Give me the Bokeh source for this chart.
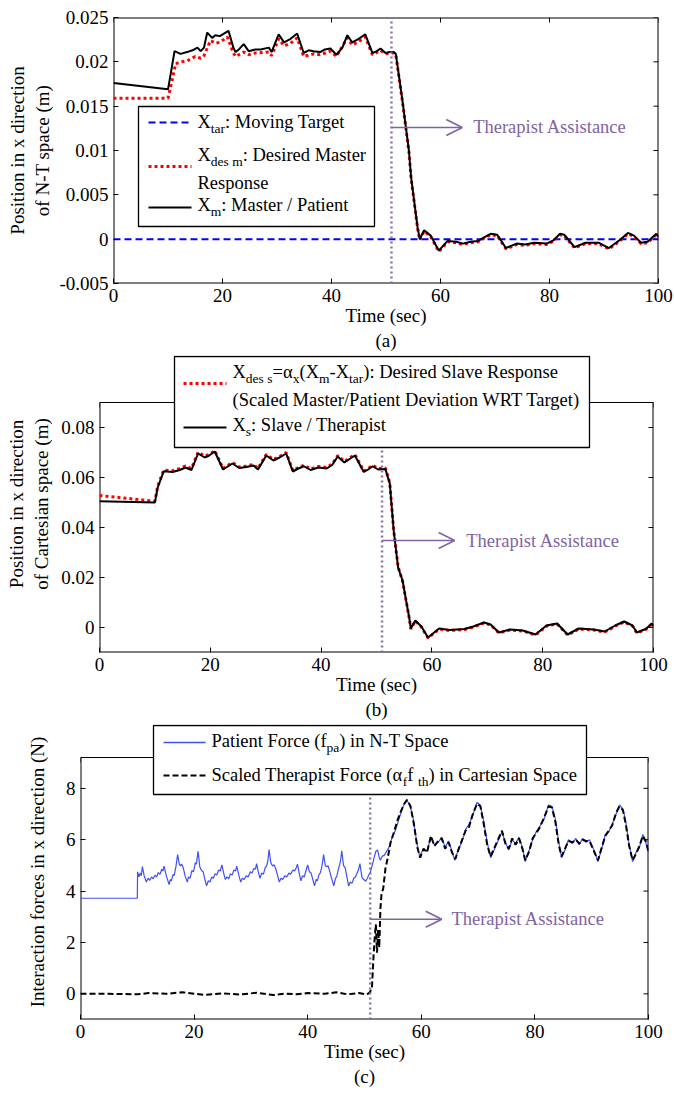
from bokeh.plotting import figure
from bokeh.layouts import column
from bokeh.models import (Range1d, FixedTicker, Label, Arrow, OpenHead, BoxAnnotation)
from bokeh.embed import file_html
from bokeh.resources import INLINE

FONT = "Liberation Serif"
PURPLE = "#8064A2"

# ---------------- data ----------------
T_ASSIST = 51.0

X_TICKS = [0, 20, 40, 60, 80, 100]
X_TICK_LABELS = ["0", "20", "40", "60", "80", "100"]

# (a) N-T space positions
A_YTICKS = [-0.005, 0, 0.005, 0.01, 0.015, 0.02, 0.025]
A_YTICK_LABELS = ["-0.005", "0", "0.005", "0.01", "0.015", "0.02", "0.025"]
t_tar = [0, 100]
x_tar = [0.0, 0.0]
t_m = [0, 10, 10.6, 11.2, 12.3, 13.5, 14.5, 15.4, 16.0, 16.6, 17.2, 18.1, 18.7, 19.5,
       21.1, 22.0, 22.4, 23.0, 23.9, 24.8, 26.0, 27.0, 28.5, 29.0, 30.3, 31.3, 32.5,
       33.7, 34.9, 35.8, 36.7, 37.9, 38.8, 39.8, 40.9, 42.0, 42.9, 43.8, 45.0, 46.2,
       47.5, 48.3, 49.0, 49.9, 50.7, 51.4, 51.8, 53.0, 54.2, 54.6, 55.8, 56.2, 57.0,
       58.2, 59.7, 61.3, 62.9, 64.1, 65.5, 66.9, 68.0, 69.2, 70.4, 72.0, 74.0, 75.5,
       77.2, 79.5, 80.8, 81.9, 82.7, 84.6, 86.6, 89.0, 90.9, 92.9, 94.4, 95.5, 96.8,
       98.0, 99.6, 100]
x_m = [0.0176, 0.0169, 0.0190, 0.0212, 0.0209, 0.0211, 0.0213, 0.0216, 0.0212, 0.0216,
       0.0233, 0.0227, 0.0230, 0.0229, 0.0235, 0.0216, 0.0211, 0.0214, 0.0220, 0.0212,
       0.0214, 0.0214, 0.0216, 0.0211, 0.0231, 0.0222, 0.0226, 0.0232, 0.0210, 0.0213,
       0.0212, 0.0211, 0.0214, 0.0215, 0.0208, 0.0216, 0.0230, 0.0222, 0.0226, 0.0231,
       0.0210, 0.0212, 0.0215, 0.0210, 0.0211, 0.0211, 0.0209, 0.0157, 0.0100, 0.0070,
       0.0013, 0.0000, 0.0010, 0.0004, -0.0013, -0.0002, -0.0003, -0.0005, -0.0003,
       -0.0002, 0.0002, 0.0006, 0.0005, -0.0010, -0.0005, -0.0006, -0.0004, -0.0005,
       -0.0001, 0.0006, 0.0005, -0.0009, -0.0004, -0.0004, -0.0010, -0.0001, 0.0007,
       0.0004, -0.0004, -0.0003, 0.0006, 0.0003]
t_des_m = [0, 10, 10.6, 11.4, 12.5, 13.5, 15.0, 16.0, 16.6, 17.8, 18.7, 19.5, 20.9,
           22.0, 22.4, 23.9, 24.8, 26.0, 28.5, 29.0, 30.3, 31.3, 32.5, 33.7, 34.9, 36.7,
           37.9, 39.8, 40.9, 42.9, 43.8, 45.0, 46.2, 47.5, 49.0, 49.9, 50.7, 51.4, 51.8,
           53.0, 54.2, 54.6, 55.8, 56.2, 57.0, 58.2, 59.7, 61.3, 62.9, 64.1, 65.5, 66.9,
           68.0, 69.2, 70.4, 72.0, 74.0, 75.5, 77.2, 79.5, 80.8, 81.9, 82.7, 84.6, 86.6,
           89.0, 90.9, 92.9, 94.4, 95.5, 96.8, 98.0, 99.6, 100]
x_des_m = [0.0159, 0.0159, 0.0175, 0.0198, 0.0200, 0.0201, 0.0206, 0.0204, 0.0207,
           0.0224, 0.0221, 0.0222, 0.0228, 0.0210, 0.0206, 0.0211, 0.0208, 0.0210,
           0.0211, 0.0207, 0.0226, 0.0218, 0.0221, 0.0227, 0.0206, 0.0209, 0.0208,
           0.0212, 0.0206, 0.0227, 0.0219, 0.0223, 0.0228, 0.0208, 0.0213, 0.0209,
           0.0210, 0.0210, 0.0208, 0.0156, 0.0099, 0.0069, 0.0012, -0.0001, 0.0009,
           0.0003, -0.0014, -0.0003, -0.0004, -0.0006, -0.0004, -0.0003, 0.0001, 0.0005,
           0.0004, -0.0011, -0.0006, -0.0007, -0.0005, -0.0006, -0.0002, 0.0005, 0.0004,
           -0.0010, -0.0005, -0.0005, -0.0011, -0.0002, 0.0006, 0.0003, -0.0005,
           -0.0004, 0.0005, 0.0002]

# (b) Cartesian space positions
B_YTICKS = [0, 0.02, 0.04, 0.06, 0.08]
B_YTICK_LABELS = ["0", "0.02", "0.04", "0.06", "0.08"]
t_s = [0, 10, 10.5, 11.6, 13.2, 14.5, 15.5, 16.6, 17.8, 19.0, 19.8, 20.8, 22.3, 23.0,
       24.0, 25.2, 26.5, 27.8, 28.6, 30.1, 31.4, 32.5, 33.7, 34.9, 35.8, 36.9, 38.1,
       39.5, 41.0, 42.0, 43.0, 44.2, 45.0, 46.1, 47.7, 48.5, 49.3, 50.3, 51.6, 52.4,
       53.1, 53.9, 54.7, 55.9, 56.2, 57.0, 58.1, 59.3, 61.3, 63.2, 65.9, 67.5, 69.4,
       70.6, 72.1, 74.1, 76.4, 78.7, 80.7, 82.6, 84.5, 86.5, 89.2, 91.2, 93.1, 94.7,
       96.2, 97.0, 98.6, 99.7, 100]
x_s = [0.0505, 0.0500, 0.0560, 0.0625, 0.0622, 0.0630, 0.0640, 0.0630, 0.0696, 0.0680,
       0.0688, 0.0704, 0.0632, 0.0642, 0.0656, 0.0638, 0.0642, 0.0648, 0.0632, 0.0688,
       0.0668, 0.0680, 0.0696, 0.0624, 0.0635, 0.0645, 0.0630, 0.0640, 0.0636, 0.0650,
       0.0684, 0.0660, 0.0672, 0.0688, 0.0622, 0.0632, 0.0645, 0.0632, 0.0634, 0.0576,
       0.0388, 0.0240, 0.0188, 0.0040, -0.0004, 0.0028, 0.0004, -0.0040, -0.0004,
       -0.0010, -0.0006, 0.0004, 0.0020, 0.0012, -0.0020, -0.0008, -0.0012, -0.0028,
       0.0008, 0.0016, -0.0028, -0.0004, -0.0008, -0.0016, 0.0008, 0.0024, 0.0008,
       -0.0020, -0.0006, 0.0016, 0.0005]
x_des_s = [0.0528, 0.0505, 0.0565, 0.0630, 0.0627, 0.0636, 0.0646, 0.0636, 0.0702,
           0.0686, 0.0692, 0.0708, 0.0636, 0.0646, 0.0660, 0.0642, 0.0646, 0.0652,
           0.0636, 0.0692, 0.0672, 0.0684, 0.0700, 0.0628, 0.0639, 0.0649, 0.0634,
           0.0644, 0.0640, 0.0654, 0.0688, 0.0664, 0.0676, 0.0692, 0.0626, 0.0636,
           0.0649, 0.0636, 0.0638, 0.0578, 0.0390, 0.0242, 0.0186, 0.0038, -0.0006,
           0.0026, 0.0002, -0.0042, -0.0006, -0.0012, -0.0008, 0.0002, 0.0018, 0.0010,
           -0.0022, -0.0010, -0.0014, -0.0030, 0.0006, 0.0014, -0.0030, -0.0006,
           -0.0010, -0.0018, 0.0006, 0.0022, 0.0006, -0.0022, -0.0008, 0.0014, 0.0003]

# (c) interaction forces
C_YTICKS = [0, 2, 4, 6, 8]
C_YTICK_LABELS = ["0", "2", "4", "6", "8"]
t_pa = [0, 10.0, 10.05, 10.3, 10.5, 10.7, 10.9, 11.2, 11.6, 11.9, 12.2, 12.5, 12.8, 13.1,
        13.4, 13.7, 14.0, 14.3, 14.5, 14.7, 15.1, 15.6, 15.8, 16.0, 16.3, 16.5, 16.8,
        17.1, 17.4, 17.6, 17.8, 18.1, 18.4, 18.8, 19.0, 19.3, 19.6, 19.9, 20.2, 20.4,
        20.7, 21.0, 21.3, 21.6, 21.9, 22.2, 22.5, 22.8, 23.1, 23.4, 23.7, 24.0, 24.3,
        24.6, 24.9, 25.2, 25.5, 25.8, 26.1, 26.4, 26.7, 27.0, 27.3, 27.5, 27.9, 28.2,
        28.5, 28.8, 29.2, 29.5, 29.9, 30.2, 30.5, 30.8, 31.0, 31.3, 31.6, 31.9, 32.2,
        32.5, 32.8, 33.0, 33.2, 33.5, 33.8, 34.1, 34.4, 34.7, 35.0, 35.3, 35.6, 36.0,
        36.3, 36.7, 37.0, 37.4, 37.7, 38.0, 38.2, 38.5, 38.8, 39.1, 39.4, 39.7, 40.0,
        40.3, 40.6, 40.9, 41.2, 41.5, 41.7, 42.0, 42.2, 42.5, 42.8, 43.1, 43.3, 43.6,
        43.9, 44.2, 44.6, 44.9, 45.1, 45.4, 45.6, 45.8, 46.0, 46.3, 46.6, 46.9, 47.2,
        47.5, 47.8, 48.1, 48.4, 48.7, 48.9, 49.2, 49.4, 49.6, 49.9, 50.2, 50.5, 50.8,
        51.0, 51.3, 51.7, 52.0, 52.3, 52.6, 52.8, 53.1, 53.5, 54.3, 54.8, 55.5, 56.2,
        56.8, 57.4, 58.0, 58.6, 59.2, 59.7, 60.3, 61.0, 61.7, 62.3, 63.0, 63.6, 64.2,
        64.8, 65.4, 65.9, 66.5, 67.2, 67.8, 68.4, 69.0, 69.8, 70.4, 71.0, 71.6, 72.2,
        72.8, 73.4, 74.2, 74.8, 75.4, 76.0, 76.6, 77.2, 77.8, 78.3, 79.0, 79.6, 80.2,
        80.8, 81.6, 82.4, 83.0, 83.6, 84.2, 84.7, 85.3, 85.9, 86.6, 87.2, 87.8, 88.4,
        89.0, 89.6, 90.4, 91.1, 91.7, 92.4, 93.0, 93.6, 94.3, 94.9, 95.5, 96.0, 96.6,
        97.2, 97.8, 98.4, 99.0, 99.5, 100.0]
f_pa = [3.72, 3.72, 4.75, 4.55, 4.7, 4.6, 4.95, 4.6, 4.35, 4.5, 4.42, 4.55, 4.48, 4.62,
        4.55, 4.72, 4.65, 4.85, 4.78, 4.97, 4.6, 4.25, 4.45, 4.4, 4.65, 4.6, 4.95, 5.42,
        5.05, 4.98, 5.05, 4.9, 4.6, 4.35, 4.55, 4.5, 4.8, 4.75, 5.1, 5.05, 5.55, 4.95,
        4.8, 4.75, 4.45, 4.2, 4.4, 4.35, 4.55, 4.5, 4.68, 4.62, 4.82, 4.78, 5.02, 4.7,
        4.45, 4.55, 4.48, 4.68, 4.62, 4.82, 4.78, 4.97, 4.6, 4.35, 4.5, 4.45, 4.6, 4.55,
        4.75, 4.7, 4.88, 4.85, 5.07, 4.75, 4.5, 4.7, 4.65, 4.9, 5.0, 5.2, 5.62, 5.1, 4.98,
        5.02, 4.85, 4.6, 4.35, 4.5, 4.45, 4.6, 4.55, 4.7, 4.66, 4.82, 4.78, 4.92, 5.05,
        4.7, 4.4, 4.6, 4.55, 4.8, 5.02, 4.75, 4.7, 4.45, 4.2, 4.45, 4.4, 4.65, 4.7, 4.95,
        5.42, 5.0, 4.95, 4.98, 4.75, 4.5, 4.2, 4.5, 4.55, 4.85, 5.0, 5.2, 5.57, 5.0, 4.9,
        4.55, 4.2, 4.35, 4.3, 4.5, 4.55, 4.7, 4.8, 5.07, 4.75, 4.5, 4.45, 4.38, 4.5, 4.65,
        4.7, 4.95, 5.3, 5.55, 5.6, 5.3, 5.2, 5.35, 5.4, 5.7, 6.05, 6.4, 6.9, 7.3, 7.55,
        7.35, 6.8, 5.9, 5.35, 5.6, 5.55, 6.1, 5.8, 5.9, 6.1, 5.7, 5.95, 5.55, 5.2, 5.6,
        5.95, 6.4, 6.6, 6.9, 7.45, 7.35, 6.7, 5.9, 5.3, 5.6, 5.9, 6.3, 5.9, 5.6, 6.0,
        5.85, 6.1, 5.7, 5.15, 5.6, 6.0, 6.3, 6.5, 6.8, 7.35, 7.3, 6.8, 5.9, 5.3, 5.6, 6.0,
        5.85, 6.05, 5.8, 6.05, 5.9, 6.0, 5.6, 5.15, 5.6, 6.2, 6.3, 6.6, 7.0, 7.35, 7.2,
        6.7, 5.8, 5.15, 5.5, 5.7, 6.2, 5.9, 5.5]
t_th = [0, 5, 10, 12, 15, 18, 20, 22, 25, 28, 31, 34, 36, 38, 40, 43, 45, 47, 49, 50.4,
        50.9, 51.3, 51.6, 51.8, 52.0, 52.2, 52.4, 52.6, 52.8, 53.0, 53.3, 53.7, 54.1,
        54.6, 55.2, 55.8, 56.4, 57.0, 57.5, 58.1, 58.7, 59.3, 59.8, 60.4, 61.0, 61.7,
        62.3, 63.0, 63.6, 64.2, 64.8, 65.4, 66.0, 66.6, 67.2, 67.8, 68.4, 69.0, 69.8,
        70.4, 71.0, 71.6, 72.2, 72.8, 73.4, 74.2, 74.8, 75.4, 76.0, 76.6, 77.2, 77.8,
        78.3, 79.0, 79.6, 80.2, 80.8, 81.6, 82.4, 83.0, 83.6, 84.2, 84.7, 85.3, 85.9,
        86.6, 87.2, 87.8, 88.4, 89.0, 89.6, 90.4, 91.1, 91.7, 92.4, 93.0, 93.6, 94.3,
        94.9, 95.5, 96.0, 96.6, 97.2, 97.8, 98.4, 99.0, 99.5, 100.0]
f_th = [0.0, 0.0, -0.02, 0.03, 0.0, 0.06, 0.0, -0.04, 0.02, -0.03, 0.04, -0.05, 0.01,
        -0.02, 0.03, 0.0, 0.06, -0.02, 0.03, -0.03, 0.05, 0.2, 1.5, 2.2, 2.7, 1.6, 2.5,
        1.8, 3.3, 3.9, 4.1, 4.9, 5.3, 5.9, 6.3, 6.75, 7.1, 7.4, 7.55, 7.3, 6.6, 5.7, 5.3,
        5.65, 5.5, 6.15, 5.75, 5.95, 6.05, 5.65, 5.9, 5.5, 5.25, 5.65, 6.0, 6.35, 6.5,
        6.95, 7.4, 7.3, 6.6, 5.8, 5.35, 5.65, 5.95, 6.35, 5.85, 5.65, 6.05, 5.8, 6.05,
        5.65, 5.2, 5.55, 6.05, 6.25, 6.45, 6.85, 7.3, 7.25, 6.7, 5.8, 5.35, 5.65, 5.95,
        5.9, 6.0, 5.85, 6.0, 5.95, 5.95, 5.55, 5.2, 5.65, 6.15, 6.35, 6.55, 7.05, 7.3,
        7.15, 6.6, 5.75, 5.2, 5.45, 5.75, 6.15, 5.95, 5.55]

# ---------------- helpers ----------------
# Times/Liberation Serif advance widths (per 1000 em)
GLYPH_W = {" ": 250, "(": 333, ")": 333, "-": 333, ".": 250, "/": 278, ":": 278,
           "=": 564, "α": 530, "A": 722, "C": 667, "D": 722, "F": 556, "M": 889,
           "N": 722, "P": 556, "R": 667, "S": 556, "T": 611, "W": 944, "X": 722,
           "a": 444, "c": 444, "d": 500, "e": 444, "f": 333, "g": 500, "h": 500,
           "i": 278, "l": 278, "m": 778, "n": 500, "o": 500, "p": 500, "r": 333,
           "s": 389, "t": 278, "v": 500, "x": 500}


def text_w(s, size):
    return sum(GLYPH_W.get(c, 500) for c in s) * size / 1000.0


LEG_SIZE = 18.5
SUB_SIZE = 13.5
TICK_LEN = 5


class Panel:
    """A plot whose frame may reach above the axes box, so that a legend can
    overhang the top edge of the box.  Page coordinates are px from the top-left
    of the whole page; (left, bottom) is the axes box's lower-left corner."""

    def __init__(self, box_l, box_r, box_t, box_b, fig_top, frame_top, fig_bottom,
                 y_lo, y_hi, yticks, ylabels, ylabel, xlabel, ylabel_standoff):
        self.left, self.bottom = box_l, box_b
        box_w, box_h = box_r - box_l, box_b - box_t
        extra = box_t - frame_top
        y_top = y_hi + extra * (y_hi - y_lo) / box_h
        self.y_lo, self.y_hi = y_lo, y_hi
        self.dx = 100.0 / box_w                  # data units per px
        self.dy = (y_hi - y_lo) / box_h

        p = figure(frame_width=box_w, frame_height=box_h + extra,
                   min_border_left=box_l, min_border_right=674 - box_r,
                   min_border_top=frame_top - fig_top,
                   min_border_bottom=fig_bottom - box_b,
                   x_range=Range1d(0, 100), y_range=Range1d(y_lo, y_top),
                   output_backend="svg", toolbar_location=None)
        # each panel keeps its own box position inside the column
        p.frame_align = False
        p.xgrid.visible = False
        p.ygrid.visible = False
        p.outline_line_color = None
        p.background_fill_color = "white"
        p.border_fill_color = "white"

        xa = p.xaxis[0]
        xa.ticker = FixedTicker(ticks=X_TICKS)
        xa.major_label_overrides = dict(zip(X_TICKS, X_TICK_LABELS))
        xa.axis_label = xlabel
        xa.axis_label_standoff = 0
        xa.major_label_standoff = 5

        ya = p.yaxis[0]
        ya.ticker = FixedTicker(ticks=yticks)
        ya.major_label_overrides = dict(zip(yticks, ylabels))
        ya.axis_label = ylabel
        ya.axis_label_standoff = ylabel_standoff
        ya.major_label_standoff = 5

        for ax in (xa, ya):
            ax.major_tick_in = TICK_LEN
            ax.major_tick_out = 0
            ax.minor_tick_in = 0
            ax.minor_tick_out = 0
            ax.axis_line_color = None
            ax.major_tick_line_color = "black"
            ax.major_label_text_font = FONT
            ax.major_label_text_font_size = "19px"
            ax.major_label_text_color = "black"
            ax.axis_label_text_font = FONT
            ax.axis_label_text_font_size = "19px"
            ax.axis_label_text_font_style = "normal"
            ax.axis_label_text_color = "black"
            ax.axis_label_text_line_height = 1.2

        # axes box: left, right and bottom edges sit on the frame boundary
        # (half of a 2px stroke is clipped), the top edge may lie inside it
        top_w = 2 if extra == 0 else 1
        p.segment(x0=[0, 100, 0], y0=[y_lo, y_lo, y_lo], x1=[0, 100, 100],
                  y1=[y_hi, y_hi, y_lo], line_color="black", line_width=2)
        p.segment(x0=[0], y0=[y_hi], x1=[100], y1=[y_hi], line_color="black",
                  line_width=top_w)
        # ticks on the top and right edges of the box
        p.segment(x0=X_TICKS, y0=[y_hi] * len(X_TICKS), x1=X_TICKS,
                  y1=[y_hi - TICK_LEN * self.dy] * len(X_TICKS), line_color="black",
                  line_width=1)
        p.segment(x0=[100] * len(yticks), y0=yticks,
                  x1=[100 - TICK_LEN * self.dx] * len(yticks), y1=yticks,
                  line_color="black", line_width=1)
        self.p = p

    def sx(self, X):
        return X - self.left

    def sy(self, Y):
        return self.bottom - Y

    def label(self, X, Y, text, size="18.5px", color="black"):
        self.p.add_layout(Label(x=self.sx(X), y=self.sy(Y), x_units="screen",
                                y_units="screen", text=text, text_font=FONT,
                                text_font_size=size, text_color=color,
                                text_align="left", text_baseline="alphabetic"))

    def rich(self, X, Yc, parts):
        # Yc is the visual centre line of the main-size text
        base = Yc - 1
        x = X
        for s, sub in parts:
            fs = SUB_SIZE if sub else LEG_SIZE
            y = base + 7 if sub else base
            self.label(x, y, s, size=f"{fs}px")
            x += text_w(s, fs)

    def box(self, L, R, T, B):
        self.p.add_layout(BoxAnnotation(left=self.sx(L), right=self.sx(R),
                                        top=self.sy(T), bottom=self.sy(B),
                                        left_units="screen", right_units="screen",
                                        top_units="screen", bottom_units="screen",
                                        fill_color="white", fill_alpha=1.0,
                                        line_color="black", line_width=1.3,
                                        line_alpha=1.0))

    def sample(self, X0, X1, Y, **line):
        self.p.add_layout(Arrow(end=None, x_start=self.sx(X0), y_start=self.sy(Y),
                                x_end=self.sx(X1), y_end=self.sy(Y),
                                start_units="screen", end_units="screen", **line))

    def assist(self, y_arrow, x_end, x_text):
        p = self.p
        p.line([T_ASSIST, T_ASSIST], [self.y_lo, self.y_hi], line_color=PURPLE,
               line_width=2.5, line_dash="2 3", line_alpha=0.9)
        p.add_layout(Arrow(end=OpenHead(size=16, line_color=PURPLE, line_width=1.6),
                           x_start=T_ASSIST, y_start=y_arrow, x_end=x_end,
                           y_end=y_arrow, line_color=PURPLE, line_width=1.6))
        p.add_layout(Label(x=x_text, y=y_arrow, text="Therapist Assistance",
                           text_font=FONT, text_font_size="18.5px",
                           text_color=PURPLE, text_baseline="middle",
                           text_align="left"))


# ---------------- (a) ----------------
A = Panel(113, 658, 17, 283, 0, 17, 355, -0.005, 0.025, A_YTICKS, A_YTICK_LABELS,
          "Position in x direction\nof N-T space (m)", "Time (sec)\n(a)", 3)
pa = A.p
pa.line(t_tar, x_tar, line_color="#0000ff", line_width=2, line_dash="7 4")
pa.line(t_des_m, x_des_m, line_color="#ff0000", line_width=3, line_dash="3 3")
pa.line(t_m, x_m, line_color="black", line_width=2)
A.assist(0.0126, 64.0, 66.0)
A.box(138, 374, 106, 226)
A.sample(148, 191, 122, line_color="#0000ff", line_width=2, line_dash="7 4")
A.rich(197, 122, [("X", 0), ("tar", 1), (": Moving Target", 0)])
A.sample(148, 191, 166, line_color="#ff0000", line_width=3, line_dash="3 3")
A.rich(197, 155, [("X", 0), ("des m", 1), (": Desired Master", 0)])
A.rich(197, 183, [("Response", 0)])
A.sample(148, 191, 207, line_color="black", line_width=2)
A.rich(197, 205, [("X", 0), ("m", 1), (": Master / Patient", 0)])

# ---------------- (b) ----------------
B = Panel(99, 653, 402, 652, 355, 355, 724, -0.01, 0.09, B_YTICKS, B_YTICK_LABELS,
          "Position in x direction\nof Cartesian space (m)", "Time (sec)\n(b)", 6)
pb = B.p
pb.line(t_s, x_des_s, line_color="#ff0000", line_width=3, line_dash="3 3")
pb.line(t_s, x_s, line_color="black", line_width=2)
B.assist(0.0348, 64.1, 66.2)
B.box(174, 589, 356, 447)
B.sample(183, 226, 383, line_color="#ff0000", line_width=3, line_dash="3 3")
B.rich(232, 372, [("X", 0), ("des s", 1), ("=α", 0), ("x", 1), ("(X", 0), ("m", 1),
                  ("-X", 0), ("tar", 1), ("): Desired Slave Response", 0)])
B.rich(232, 400, [("(Scaled Master/Patient Deviation WRT Target)", 0)])
B.sample(183, 226, 427, line_color="black", line_width=2)
B.rich(232, 425, [("X", 0), ("s", 1), (": Slave / Therapist", 0)])

# ---------------- (c) ----------------
C = Panel(80, 648, 757, 1019, 724, 724, 1093, -1.0, 9.2, C_YTICKS, C_YTICK_LABELS,
          "Interaction forces in x direction (N)", "Time (sec)\n(c)", 15)
pc = C.p
pc.line(t_pa, f_pa, line_color="#4150f2", line_width=1.2)
pc.line(t_th, f_th, line_color="black", line_width=2, line_dash="6 3")
C.assist(2.9, 63.6, 65.3)
C.box(153, 586, 725, 794)
C.sample(163, 205, 742, line_color="#4150f2", line_width=1.5)
C.rich(211, 741, [("Patient Force (f", 0), ("pa", 1), (") in N-T Space", 0)])
C.sample(163, 205, 775, line_color="black", line_width=2, line_dash="6 3")
C.rich(211, 775, [("Scaled Therapist Force (α", 0), ("f", 1), (" f", 0),
                  ("th", 1), (") in Cartesian Space", 0)])

layout = column(A.p, B.p, C.p)
open("out.html", "w").write(file_html(layout, INLINE))
